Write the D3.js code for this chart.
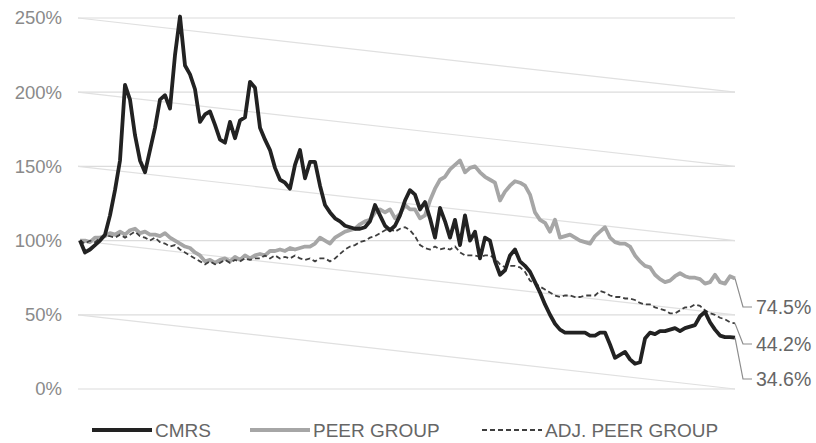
<!DOCTYPE html>
<html>
<head>
<meta charset="utf-8">
<script src="https://cdn.jsdelivr.net/npm/d3@7"></script>
<style>
  body { margin: 0; background: #fff; }
  text { font-family: "Liberation Sans", Arial, sans-serif; }
</style>
</head>
<body>
<div id="chart"></div>
<script>
// values in % of start, one reading per step along the period
var cmrs = [100,92,94,97,100,104,117,134,154,205,195,171,154,146,161,176,195,198,189,225,
  251,218,212,202,180,185,187,178,168,166,180,169,181,183,207,203,176,168,161,149,
  141,139,135,151,161,142,153,153,137,124,119,115,113,110,109,108,108,109,113,124,
  117,110,107,110,117,127,134,131,121,126,115,102,122,113,102,114,97,117,100,106,
  88,102,100,86,77,80,90,94,86,83,79,72,65,57,50,44,40,38,38,38,
  38,38,36,36,38,38,30,21,23,25,20,17,18,34,38,37,39,39,40,41,
  39,41,42,43,49,52,45,40,36,35,35,34.6];
var peer = [100,100,99,102,102,103,105,104,106,104,107,108,105,106,104,104,103,105,102,100,
  98,96,95,92,90,86,87,85,87,88,86,89,87,90,88,90,91,90,93,93,
  94,93,95,94,95,96,96,98,102,100,98,102,104,106,107,108,111,113,114,119,
  121,119,121,115,118,124,121,121,115,117,127,135,141,143,148,151,154,146,149,150,
  146,143,141,139,127,133,137,140,139,137,131,119,114,112,106,114,102,103,104,102,
  100,99,98,103,106,109,102,99,98,98,96,90,86,83,82,77,74,72,73,76,
  78,76,75,75,74,71,72,77,72,71,76,74.5];
var adjPeer = [100,98,100,99,102,103,103,102,104,102,104,106,103,102,100,102,99,98,96,97,
  94,92,90,88,86,84,86,84,85,87,85,87,86,88,87,88,88,90,88,90,
  88,89,88,90,88,87,88,86,88,88,86,88,91,94,96,97,99,100,102,103,
  105,107,108,106,108,109,107,103,97,95,94,96,94,95,94,96,92,90,90,90,
  89,90,90,88,84,82,83,83,82,79,73,71,69,67,65,63,62,63,63,62,
  62,63,63,63,66,65,63,62,62,61,61,60,58,57,57,55,54,53,51,51,
  53,55,55,57,56,53,51,50,48,47,45,44.2];

var seriesNames = ["CMRS", "PEER GROUP", "ADJ. PEER GROUP"];
var yTicks = [0, 50, 100, 150, 200, 250];
var endLabels = ["74.5%", "44.2%", "34.6%"];

var width = 816, height = 443;
var svg = d3.select("#chart").append("svg")
  .attr("width", width).attr("height", height);

var x = d3.scaleLinear().domain([0, cmrs.length - 1]).range([80, 735]);
var y = d3.scaleLinear().domain([0, 250]).range([389, 18]);
var gx0 = 78, gx1 = 735;

// horizontal gridlines
svg.selectAll(".grid").data(yTicks).enter().append("line")
  .attr("x1", gx0).attr("x2", gx1)
  .attr("y1", d => y(d)).attr("y2", d => y(d))
  .attr("stroke", "#dcdcdc").attr("stroke-width", 1.2);

// faint slanted lines (each dropping 50 points over the period)
svg.selectAll(".slant").data(yTicks.filter(d => d > 0)).enter().append("line")
  .attr("x1", gx0).attr("x2", gx1)
  .attr("y1", d => y(d)).attr("y2", d => y(d - 50))
  .attr("stroke", "#e0e0e0").attr("stroke-width", 1.2);

svg.selectAll(".ylab").data(yTicks).enter().append("text")
  .attr("x", 62).attr("y", d => y(d))
  .attr("dy", "0.35em").attr("text-anchor", "end")
  .attr("fill", "#8a8a8a").style("font-size", "18.5px")
  .text(d => d + "%");

var line = d3.line().x((d, i) => x(i)).y(d => y(d));

svg.append("path").datum(peer).attr("d", line)
  .attr("fill", "none").attr("stroke", "#a6a6a6").attr("stroke-width", 3.8)
  .attr("stroke-linejoin", "round");
svg.append("path").datum(adjPeer).attr("d", line)
  .attr("fill", "none").attr("stroke", "#3f3f3f").attr("stroke-width", 1.8)
  .attr("stroke-dasharray", "5,3");
svg.append("path").datum(cmrs).attr("d", line)
  .attr("fill", "none").attr("stroke", "#222").attr("stroke-width", 3.8)
  .attr("stroke-linejoin", "round");

// end labels with leader lines
var ends = [
  {v: peer[peer.length - 1], ly: 307, t: endLabels[0]},
  {v: adjPeer[adjPeer.length - 1], ly: 344, t: endLabels[1]},
  {v: cmrs[cmrs.length - 1], ly: 379, t: endLabels[2]}
];
var last = cmrs.length - 1;
ends.forEach(function(e) {
  svg.append("polyline")
    .attr("points", [[x(last), y(e.v)], [x(last) + 8, e.ly], [x(last) + 17, e.ly]].join(" "))
    .attr("fill", "none").attr("stroke", "#8c8c8c").attr("stroke-width", 1.2);
  svg.append("text")
    .attr("x", x(last) + 21).attr("y", e.ly).attr("dy", "0.35em")
    .attr("fill", "#666").style("font-size", "19.5px")
    .text(e.t);
});

// legend
var legend = [
  {x: 92, color: "#222", w: 4, dash: null},
  {x: 250, color: "#a6a6a6", w: 4, dash: null},
  {x: 482, color: "#3f3f3f", w: 1.8, dash: "5,3"}
];
legend.forEach(function(l, i) {
  svg.append("line")
    .attr("x1", l.x).attr("x2", l.x + 60).attr("y1", 430).attr("y2", 430)
    .attr("stroke", l.color).attr("stroke-width", l.w)
    .attr("stroke-dasharray", l.dash);
  svg.append("text")
    .attr("x", l.x + 63).attr("y", 430).attr("dy", "0.35em")
    .attr("fill", "#666").style("font-size", "19px")
    .text(seriesNames[i]);
});
</script>
</body>
</html>
